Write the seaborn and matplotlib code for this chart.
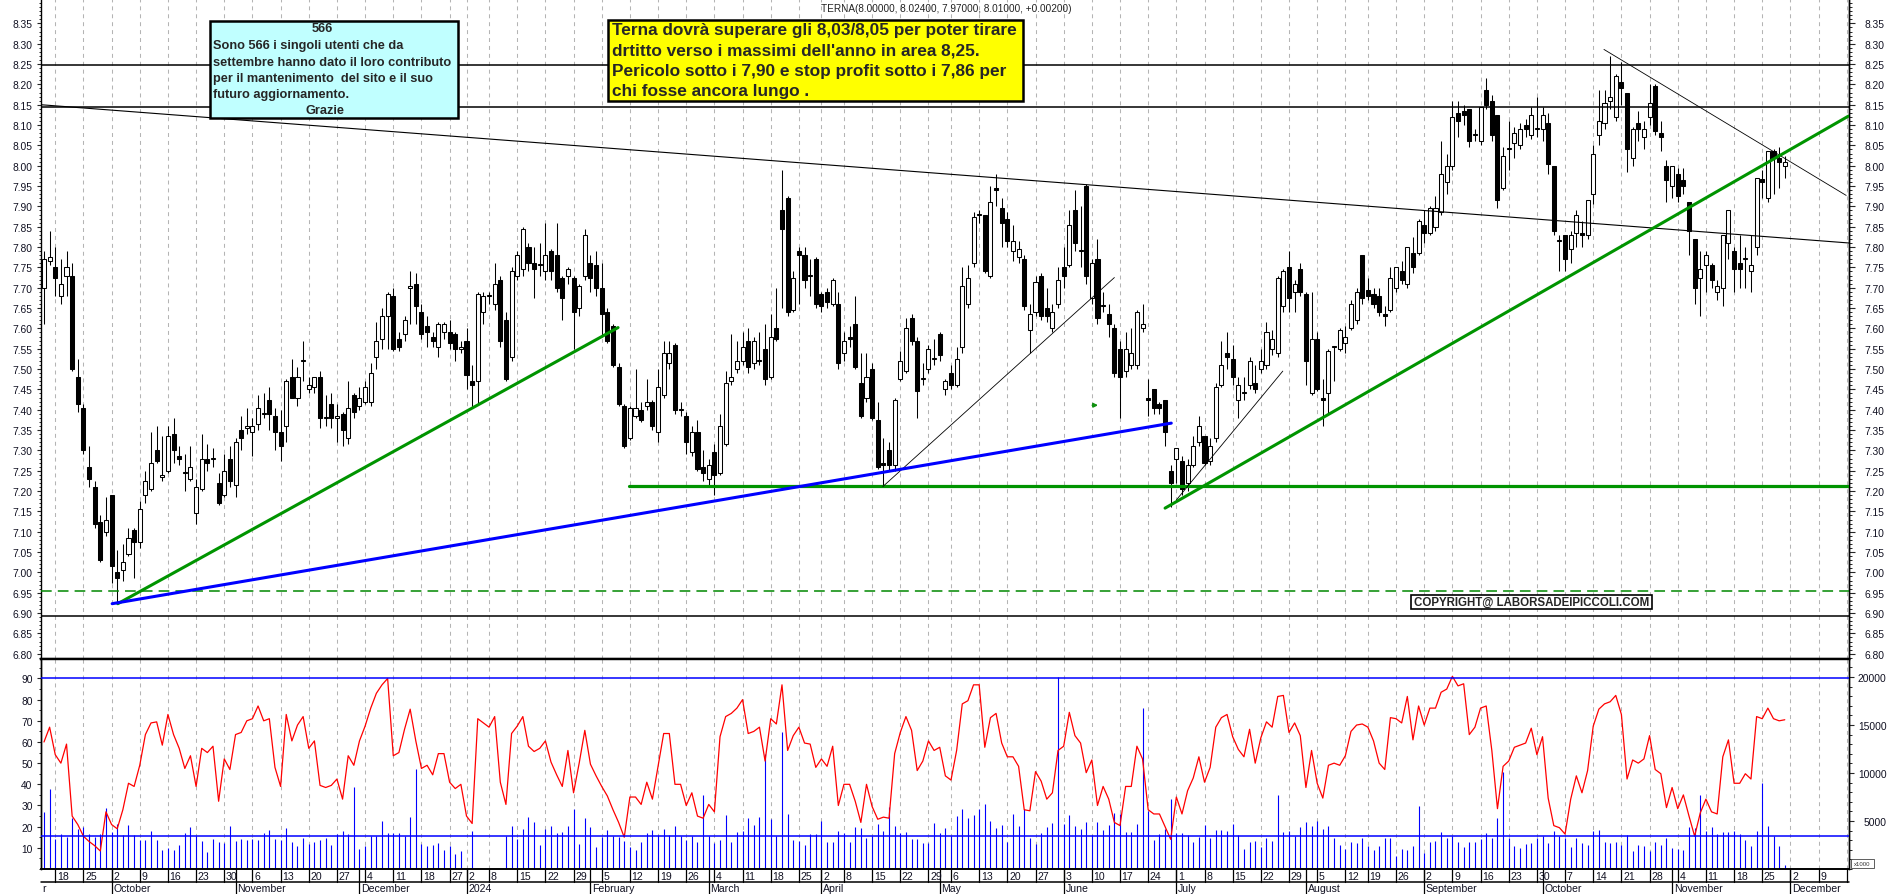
import numpy as np
import pandas as pd
import matplotlib
matplotlib.use("Agg")
import matplotlib.pyplot as plt
from matplotlib.patches import Rectangle
from matplotlib.lines import Line2D
from matplotlib.transforms import blended_transform_factory
from matplotlib.ticker import MultipleLocator
import seaborn as sns

# ---------------------------------------------------------------- data
market_holidays = ["2023-12-25", "2023-12-26", "2024-01-01", "2024-03-29", "2024-04-01",
                   "2024-05-01", "2024-08-15", "2024-12-24", "2024-12-25", "2024-12-26"]
session_dates = pd.bdate_range("2023-09-14", "2024-12-20")
session_dates = session_dates[~session_dates.isin(pd.to_datetime(market_holidays))]

open_ = [
    7.70, 7.765, 7.75, 7.68, 7.73, 7.73, 7.48, 7.405, 7.26, 7.21,
    7.125, 7.10, 7.19, 7.00, 7.005, 7.045, 7.105, 7.075, 7.19, 7.205,
    7.30, 7.235, 7.25, 7.34, 7.285, 7.245, 7.23, 7.145, 7.205, 7.28,
    7.28, 7.22, 7.19, 7.28, 7.215, 7.35, 7.355, 7.345, 7.365, 7.39,
    7.425, 7.385, 7.345, 7.36, 7.48, 7.43, 7.52, 7.45, 7.455, 7.48,
    7.38, 7.415, 7.38, 7.39, 7.33, 7.435, 7.41, 7.42, 7.42, 7.53,
    7.575, 7.63, 7.68, 7.575, 7.585, 7.70, 7.71, 7.64, 7.605, 7.58,
    7.555, 7.59, 7.59, 7.585, 7.55, 7.57, 7.47, 7.47, 7.64, 7.68,
    7.66, 7.72, 7.62, 7.53, 7.73, 7.745, 7.80, 7.76, 7.755, 7.74,
    7.79, 7.78, 7.725, 7.73, 7.725, 7.65, 7.73, 7.76, 7.755, 7.70,
    7.64, 7.605, 7.505, 7.41, 7.33, 7.385, 7.40, 7.41, 7.42, 7.345,
    7.435, 7.515, 7.56, 7.40, 7.385, 7.295, 7.345, 7.26, 7.23, 7.295,
    7.245, 7.315, 7.47, 7.50, 7.52, 7.57, 7.515, 7.52, 7.55, 7.48,
    7.60, 7.89, 7.92, 7.645, 7.79, 7.78, 7.73, 7.77, 7.685, 7.69,
    7.66, 7.66, 7.54, 7.58, 7.61, 7.465, 7.43, 7.50, 7.375, 7.27,
    7.30, 7.265, 7.475, 7.495, 7.625, 7.57, 7.475, 7.50, 7.525, 7.585,
    7.45, 7.49, 7.46, 7.555, 7.66, 7.76, 7.88, 7.88, 7.73, 7.945,
    7.895, 7.87, 7.79, 7.775, 7.77, 7.595, 7.64, 7.73, 7.65, 7.60,
    7.66, 7.75, 7.755, 7.89, 7.79, 7.95, 7.675, 7.77, 7.655, 7.635,
    7.60, 7.55, 7.495, 7.51, 7.51, 7.60, 7.43, 7.45, 7.415, 7.425,
    7.25, 7.28, 7.275, 7.22, 7.265, 7.32, 7.335, 7.275, 7.33, 7.46,
    7.54, 7.525, 7.425, 7.44, 7.46, 7.465, 7.50, 7.51, 7.55, 7.54,
    7.655, 7.75, 7.69, 7.745, 7.685, 7.44, 7.575, 7.43, 7.44, 7.555,
    7.55, 7.565, 7.60, 7.62, 7.78, 7.695, 7.685, 7.68, 7.635, 7.645,
    7.70, 7.74, 7.71, 7.785, 7.785, 7.855, 7.835, 7.85, 7.885, 7.96,
    8.00, 8.13, 8.135, 8.14, 8.075, 8.06, 8.185, 8.16, 8.125, 7.945,
    8.04, 8.055, 8.05, 8.10, 8.075, 8.09, 8.09, 8.105, 8.00, 7.815,
    7.83, 7.795, 7.835, 7.835, 7.83, 7.93, 8.075, 8.105, 8.16, 8.12,
    8.205, 8.18, 8.02, 8.105, 8.07, 8.12, 8.195, 8.08, 8.00, 7.95,
    7.98, 7.965, 7.91, 7.82, 7.725, 7.755, 7.755, 7.69, 7.70, 7.81,
    7.79, 7.76, 7.77, 7.74, 7.80, 7.968, 7.92, 8.035, 8.02, 8.00,
]
high = [
    7.79, 7.84, 7.80, 7.77, 7.79, 7.76, 7.525, 7.415, 7.31, 7.225,
    7.14, 7.185, 7.19, 7.055, 7.07, 7.11, 7.11, 7.175, 7.25, 7.345,
    7.36, 7.335, 7.36, 7.38, 7.31, 7.29, 7.31, 7.23, 7.34, 7.315,
    7.305, 7.245, 7.29, 7.31, 7.33, 7.385, 7.405, 7.38, 7.435, 7.44,
    7.455, 7.405, 7.40, 7.475, 7.525, 7.505, 7.57, 7.48, 7.48, 7.495,
    7.435, 7.44, 7.415, 7.395, 7.47, 7.44, 7.455, 7.47, 7.515, 7.615,
    7.65, 7.69, 7.70, 7.59, 7.63, 7.74, 7.735, 7.66, 7.63, 7.59,
    7.615, 7.615, 7.62, 7.59, 7.57, 7.60, 7.51, 7.69, 7.69, 7.69,
    7.76, 7.73, 7.64, 7.75, 7.79, 7.85, 7.81, 7.80, 7.81, 7.86,
    7.795, 7.86, 7.73, 7.75, 7.73, 7.71, 7.845, 7.78, 7.79, 7.76,
    7.65, 7.61, 7.515, 7.415, 7.41, 7.50, 7.42, 7.475, 7.425, 7.50,
    7.57, 7.57, 7.565, 7.42, 7.395, 7.36, 7.375, 7.30, 7.28, 7.315,
    7.39, 7.495, 7.585, 7.57, 7.59, 7.60, 7.58, 7.59, 7.61, 7.635,
    7.70, 7.99, 7.925, 7.74, 7.80, 7.80, 7.77, 7.775, 7.69, 7.70,
    7.725, 7.69, 7.59, 7.605, 7.68, 7.54, 7.54, 7.515, 7.42, 7.33,
    7.32, 7.43, 7.545, 7.625, 7.635, 7.58, 7.515, 7.56, 7.575, 7.59,
    7.475, 7.51, 7.555, 7.75, 7.755, 7.885, 7.89, 7.88, 7.95, 7.98,
    7.92, 7.885, 7.855, 7.815, 7.78, 7.66, 7.73, 7.735, 7.70, 7.66,
    7.75, 7.80, 7.89, 7.94, 7.90, 7.955, 7.77, 7.82, 7.69, 7.66,
    7.61, 7.57, 7.59, 7.60, 7.645, 7.66, 7.475, 7.45, 7.42, 7.425,
    7.265, 7.305, 7.285, 7.28, 7.335, 7.385, 7.335, 7.33, 7.465, 7.57,
    7.59, 7.56, 7.48, 7.48, 7.53, 7.51, 7.55, 7.615, 7.595, 7.73,
    7.745, 7.79, 7.72, 7.76, 7.69, 7.69, 7.59, 7.475, 7.55, 7.555,
    7.60, 7.605, 7.67, 7.70, 7.78, 7.725, 7.70, 7.70, 7.655, 7.75,
    7.75, 7.765, 7.80, 7.825, 7.87, 7.89, 7.90, 7.925, 8.06, 8.03,
    8.16, 8.16, 8.15, 8.14, 8.09, 8.145, 8.215, 8.175, 8.125, 8.045,
    8.11, 8.095, 8.105, 8.115, 8.145, 8.17, 8.145, 8.13, 8.00, 7.83,
    7.83, 7.84, 7.89, 7.865, 7.915, 8.05, 8.185, 8.185, 8.27, 8.225,
    8.255, 8.18, 8.095, 8.135, 8.11, 8.20, 8.20, 8.11, 8.015, 8.00,
    7.995, 7.995, 7.91, 7.82, 7.79, 7.79, 7.76, 7.72, 7.83, 7.89,
    7.80, 7.83, 7.80, 7.83, 7.97, 7.99, 8.035, 8.04, 8.045, 8.024,
]
low = [
    7.61, 7.755, 7.68, 7.66, 7.68, 7.495, 7.395, 7.29, 7.21, 7.11,
    7.025, 7.09, 6.975, 6.922, 6.98, 7.04, 6.985, 7.06, 7.17, 7.20,
    7.27, 7.225, 7.245, 7.27, 7.265, 7.20, 7.225, 7.12, 7.20, 7.25,
    7.26, 7.165, 7.185, 7.21, 7.185, 7.30, 7.34, 7.285, 7.35, 7.38,
    7.35, 7.30, 7.275, 7.32, 7.43, 7.41, 7.47, 7.44, 7.44, 7.355,
    7.36, 7.355, 7.32, 7.31, 7.315, 7.38, 7.40, 7.415, 7.41, 7.50,
    7.55, 7.55, 7.545, 7.545, 7.57, 7.61, 7.61, 7.575, 7.555, 7.555,
    7.53, 7.575, 7.55, 7.52, 7.54, 7.45, 7.405, 7.415, 7.61, 7.66,
    7.645, 7.555, 7.47, 7.52, 7.72, 7.73, 7.74, 7.675, 7.73, 7.72,
    7.72, 7.69, 7.62, 7.71, 7.55, 7.63, 7.72, 7.69, 7.68, 7.58,
    7.565, 7.505, 7.41, 7.305, 7.325, 7.38, 7.37, 7.40, 7.35, 7.32,
    7.43, 7.50, 7.39, 7.385, 7.29, 7.285, 7.25, 7.225, 7.21, 7.19,
    7.24, 7.31, 7.46, 7.49, 7.51, 7.49, 7.50, 7.51, 7.46, 7.475,
    7.57, 7.65, 7.63, 7.64, 7.66, 7.70, 7.68, 7.65, 7.64, 7.65,
    7.655, 7.50, 7.52, 7.555, 7.50, 7.38, 7.42, 7.375, 7.255, 7.213,
    7.25, 7.25, 7.47, 7.49, 7.56, 7.38, 7.46, 7.49, 7.51, 7.52,
    7.435, 7.45, 7.455, 7.54, 7.65, 7.75, 7.86, 7.735, 7.725, 7.90,
    7.80, 7.80, 7.765, 7.76, 7.645, 7.54, 7.63, 7.62, 7.615, 7.59,
    7.65, 7.70, 7.75, 7.79, 7.75, 7.71, 7.66, 7.61, 7.64, 7.58,
    7.48, 7.38, 7.48, 7.50, 7.50, 7.59, 7.385, 7.39, 7.39, 7.31,
    7.16, 7.22, 7.19, 7.20, 7.26, 7.31, 7.265, 7.265, 7.32, 7.455,
    7.50, 7.46, 7.38, 7.425, 7.45, 7.44, 7.49, 7.50, 7.535, 7.53,
    7.64, 7.64, 7.64, 7.68, 7.46, 7.435, 7.445, 7.36, 7.39, 7.47,
    7.545, 7.54, 7.595, 7.61, 7.66, 7.67, 7.65, 7.63, 7.605, 7.64,
    7.69, 7.71, 7.70, 7.735, 7.78, 7.81, 7.83, 7.84, 7.88, 7.93,
    7.99, 8.07, 8.10, 8.045, 8.06, 8.05, 8.14, 8.06, 7.895, 7.94,
    7.99, 8.02, 8.04, 8.07, 8.065, 8.07, 8.06, 7.98, 7.83, 7.74,
    7.74, 7.76, 7.80, 7.80, 7.82, 7.905, 8.05, 8.09, 8.14, 8.11,
    8.15, 7.985, 8.00, 8.06, 8.04, 8.10, 8.075, 8.035, 7.91, 7.92,
    7.91, 7.93, 7.78, 7.66, 7.63, 7.69, 7.70, 7.67, 7.655, 7.77,
    7.69, 7.70, 7.70, 7.69, 7.78, 7.92, 7.91, 7.93, 7.945, 7.97,
]
close = [
    7.77, 7.775, 7.725, 7.71, 7.75, 7.50, 7.415, 7.30, 7.23, 7.12,
    7.03, 7.13, 7.015, 6.985, 7.025, 7.085, 7.075, 7.155, 7.225, 7.27,
    7.275, 7.24, 7.335, 7.30, 7.28, 7.245, 7.26, 7.21, 7.28, 7.27,
    7.28, 7.17, 7.25, 7.225, 7.32, 7.33, 7.36, 7.36, 7.405, 7.39,
    7.39, 7.345, 7.31, 7.47, 7.43, 7.48, 7.52, 7.46, 7.48, 7.38,
    7.38, 7.38, 7.385, 7.35, 7.405, 7.395, 7.43, 7.455, 7.49, 7.57,
    7.63, 7.685, 7.55, 7.555, 7.62, 7.705, 7.655, 7.585, 7.59, 7.57,
    7.61, 7.61, 7.565, 7.55, 7.555, 7.485, 7.46, 7.685, 7.68, 7.68,
    7.71, 7.57, 7.475, 7.74, 7.78, 7.845, 7.76, 7.745, 7.755, 7.78,
    7.74, 7.70, 7.675, 7.745, 7.64, 7.705, 7.83, 7.725, 7.70, 7.635,
    7.57, 7.51, 7.415, 7.31, 7.405, 7.405, 7.375, 7.42, 7.36, 7.455,
    7.54, 7.54, 7.40, 7.40, 7.32, 7.345, 7.255, 7.245, 7.265, 7.24,
    7.36, 7.465, 7.48, 7.52, 7.555, 7.505, 7.57, 7.52, 7.475, 7.58,
    7.575, 7.845, 7.64, 7.725, 7.78, 7.72, 7.73, 7.66, 7.655, 7.665,
    7.72, 7.515, 7.57, 7.575, 7.505, 7.385, 7.48, 7.38, 7.26, 7.265,
    7.265, 7.425, 7.52, 7.60, 7.57, 7.445, 7.475, 7.55, 7.525, 7.535,
    7.47, 7.46, 7.525, 7.705, 7.725, 7.875, 7.88, 7.74, 7.91, 7.94,
    7.86, 7.815, 7.815, 7.795, 7.655, 7.635, 7.715, 7.63, 7.63, 7.64,
    7.72, 7.73, 7.855, 7.81, 7.79, 7.73, 7.76, 7.625, 7.655, 7.61,
    7.49, 7.48, 7.55, 7.54, 7.64, 7.61, 7.425, 7.405, 7.405, 7.345,
    7.22, 7.305, 7.205, 7.265, 7.31, 7.36, 7.27, 7.31, 7.455, 7.51,
    7.53, 7.48, 7.46, 7.44, 7.52, 7.45, 7.52, 7.59, 7.575, 7.725,
    7.74, 7.675, 7.71, 7.69, 7.52, 7.575, 7.45, 7.425, 7.545, 7.555,
    7.595, 7.58, 7.66, 7.69, 7.675, 7.68, 7.66, 7.64, 7.63, 7.725,
    7.75, 7.72, 7.80, 7.75, 7.865, 7.835, 7.895, 7.895, 7.98, 8.00,
    8.12, 8.11, 8.125, 8.06, 8.075, 8.145, 8.15, 8.075, 7.915, 8.025,
    8.04, 8.08, 8.09, 8.09, 8.125, 8.09, 8.125, 8.005, 7.84, 7.815,
    7.77, 7.83, 7.88, 7.83, 7.915, 8.03, 8.11, 8.155, 8.17, 8.22,
    8.19, 8.04, 8.09, 8.09, 8.09, 8.155, 8.085, 8.07, 7.965, 8.00,
    7.925, 7.95, 7.84, 7.70, 7.745, 7.78, 7.72, 7.705, 7.83, 7.89,
    7.745, 7.745, 7.77, 7.755, 7.97, 7.96, 8.035, 8.02, 8.01, 8.01,
]
rsi = [
    60, 67, 54, 50, 59, 25, 21, 15.5, 13, 11,
    8.5, 27, 21, 19, 28, 40.5, 39, 49, 63.5, 69,
    69.5, 58.5, 73, 63.5, 57, 47.5, 53.5, 39, 57, 55,
    58, 32, 52, 47, 63.5, 64.5, 70, 71, 77, 70,
    71, 48, 39, 73, 60.5, 68, 72, 57, 60.5, 39.5,
    38.5, 39.5, 42.5, 33, 53.5, 49, 60.5, 67.5, 76, 83,
    87, 90, 53.5, 55, 66, 75.5, 60.5, 47.5, 49, 44.5,
    54.5, 54.5, 41, 38, 40, 25, 21.5, 71, 69, 67,
    72, 41, 30.5, 64, 67.5, 72, 58, 55.5, 57, 60.5,
    50.5, 44.5, 39, 56, 36, 50, 65.5, 49.5, 44, 39,
    34.5, 28, 22, 15, 34, 34, 30.5, 41, 33, 48.5,
    64, 64, 40, 40, 30, 36, 25, 24, 30.5, 27,
    62.5, 72, 73.5, 76, 80, 64, 65, 67, 51, 71,
    68.5, 87, 56, 63, 67, 59.5, 59, 48, 52, 48.5,
    58, 30, 40, 40, 32, 22, 40, 29.5, 23.5, 24.5,
    24, 54.5, 64.5, 72, 65.5, 46.5, 51, 60.5, 56, 57.5,
    44, 42, 56, 78, 79.5, 87, 87, 57.5, 71.5, 73.5,
    59.5, 53, 53, 48.5, 28, 27.5, 46, 41.5, 33, 36,
    56, 58, 74, 63, 59.5, 45.5, 51.5, 30, 39, 33,
    22, 20.5, 39, 39, 58, 52, 28, 26, 26, 20,
    14, 34, 26, 37, 43, 53, 41, 48, 67, 71.5,
    73, 62.5, 56.5, 53, 66, 50, 62, 69.5, 67, 81.5,
    82, 64.5, 69, 63, 38.5, 56, 40.5, 33.5, 49, 50,
    49, 53.5, 65, 68, 68.5, 67, 60.5, 50, 47, 71.5,
    71, 69, 81.5, 61, 77, 68, 76, 76, 83.5, 85,
    91, 86.5, 87.5, 63.5, 67, 76, 77, 56, 28.5, 48.5,
    51, 57.5, 58.5, 59.5, 66.5, 54, 62.5, 33.5, 20.5, 19.5,
    16.5, 33, 44, 36, 46.5, 67.5, 75.5, 78, 79, 82,
    73, 42.5, 51.5, 50, 52, 63, 47, 45, 29, 38.5,
    28.5, 35, 25, 15.5, 26.5, 33, 27, 26, 53, 61,
    40.5, 40.5, 45, 42.5, 72, 71, 76, 71, 70, 70.5,
]
volume = [
    5970, 8330, 3125, 3650, 3370, 5300, 4170, 4340, 3650, 3370,
    3650, 6350, 3890, 4690, 3570, 4580, 3570, 3050, 3050, 3920,
    3050, 1980, 2150, 1980, 2500, 3750, 4340, 3400, 2880, 1735,
    3120, 2850, 2700, 4440, 2880, 3120, 3020, 3120, 3020, 3750,
    4060, 3120, 3050, 4270, 2850, 2430, 3230, 2600, 2780, 3020,
    3230, 2500, 3640, 3990, 3640, 8500, 2080, 2360, 3400, 3400,
    5030, 3750, 3710, 3750, 3400, 5380, 10400, 2600, 2430, 2530,
    2700, 2010, 2360, 1560, 1910, 0, 3990, 0, 0, 0,
    0, 0, 3400, 4510, 3120, 4160, 5380, 4930, 2500, 4160,
    4440, 3750, 3820, 4510, 6250, 2600, 5310, 4340, 2260, 3300,
    4100, 3400, 3300, 2950, 2260, 1980, 2850, 3750, 4100, 3540,
    4160, 3540, 4440, 3400, 3050, 3400, 2850, 7700, 3400, 2700,
    3050, 5620, 2780, 3820, 3990, 5310, 4580, 5380, 11970, 5200,
    3400, 14230, 5730, 3050, 2950, 2500, 3640, 3640, 5030, 2850,
    2850, 3990, 3750, 2850, 4400, 4270, 3230, 3400, 4680, 3990,
    6420, 4510, 3750, 3820, 3120, 3120, 2700, 2700, 4790, 3750,
    4230, 3400, 5550, 6250, 5310, 5620, 6250, 6770, 5030, 4270,
    4580, 2850, 5730, 4440, 6250, 3200, 2600, 3750, 4340, 4790,
    20000, 4680, 5620, 4440, 4160, 4930, 3540, 4930, 4100, 4580,
    5800, 5730, 3820, 3890, 4680, 16760, 6070, 3020, 3640, 4160,
    7290, 3750, 3750, 3540, 2850, 3300, 4580, 3230, 4060, 4060,
    3990, 4680, 3540, 2080, 2850, 2950, 2260, 3230, 2950, 7700,
    3890, 3960, 3390, 4340, 4930, 4510, 5030, 4160, 4440, 3230,
    2500, 2080, 2850, 2700, 3230, 2430, 2010, 2360, 3230, 3230,
    1320, 2080, 2010, 2360, 6520, 1670, 2850, 2880, 3890, 3230,
    3400, 2850, 2260, 2850, 2850, 3120, 3750, 3230, 5310, 10060,
    3230, 2360, 2190, 2600, 2700, 3230, 3400, 2700, 3960, 3400,
    3230, 2260, 3230, 2700, 2500, 3990, 4100, 2850, 2700, 2850,
    2500, 3540, 1910, 2500, 2430, 1910, 2850, 2500, 3230, 2190,
    2080, 2010, 4340, 4230, 7700, 3920, 4340, 3640, 3820, 3890,
    3990, 3640, 3020, 2430, 3920, 8950, 4510, 3400, 2360, 420,
]

price_ticks = [6.80, 6.85, 6.90, 6.95, 7.00, 7.05, 7.10, 7.15, 7.20, 7.25, 7.30, 7.35,
               7.40, 7.45, 7.50, 7.55, 7.60, 7.65, 7.70, 7.75, 7.80, 7.85, 7.90, 7.95,
               8.00, 8.05, 8.10, 8.15, 8.20, 8.25, 8.30, 8.35]
rsi_ticks = [10, 20, 30, 40, 50, 60, 70, 80, 90]
volume_ticks = [5000, 10000, 15000, 20000]
month_names = {2: "February", 3: "March", 4: "April", 5: "May", 6: "June", 7: "July",
               8: "August", 9: "September", 10: "October", 11: "November", 12: "December"}

# drawn study lines (session index, price)
black_levels = [8.248, 8.145, 6.893]
green_dashed_level = 6.955
green_support = (103.8, 7.212)
long_down_line = [(-0.53, 8.150), (320.4, 7.810)]
short_down_line = [(276.9, 8.286), (319.9, 7.927)]
thin_up_lines = [[(148.9, 7.211), (190.0, 7.725)], [(201.0, 7.178), (219.9, 7.495)]]
green_up_lines = [[(13.1, 6.923), (101.9, 7.602)], [(199.0, 7.158), (320.3, 8.122)]]
blue_up_line = [(12.1, 6.923), (200.1, 7.367)]
osc_levels = [90, 15.6]

title_text = "TERNA(8.00000, 8.02400, 7.97000, 8.01000, +0.00200)"
note_lines = ["Terna dovrà superare gli 8,03/8,05 per poter tirare",
              "drtitto verso i massimi dell'anno in area 8,25.",
              "Pericolo sotto i 7,90 e stop profit sotto i 7,86 per",
              "chi fosse ancora lungo ."]
thanks_lines = ["Sono 566 i singoli utenti che da",
                "settembre hanno dato il loro contributo",
                "per il mantenimento  del sito e il suo",
                "futuro aggiornamento."]

# ---------------------------------------------------------------- style
sns.set_theme(style="white")
plt.rcParams["font.family"] = ["Liberation Sans", "DejaVu Sans"]
plt.rcParams["axes.linewidth"] = 1.0
plt.rcParams["axes.edgecolor"] = "black"

W, H, DPI = 1890, 895, 100
fig = plt.figure(figsize=(W / DPI, H / DPI), dpi=DPI)
fig.patch.set_facecolor("white")


def fx(x):
    return x / W


def fy(y):
    return 1 - y / H


XL, XR = 41, 1849
TOP, MID, BOT = 0, 660, 870
ax = fig.add_axes([fx(XL), fy(MID), fx(XR) - fx(XL), fy(TOP) - fy(MID)])
axv = fig.add_axes([fx(XL), fy(BOT), fx(XR) - fx(XL), fy(MID) - fy(BOT)], sharex=ax)
axr = axv.twinx()
axr.set_zorder(axv.get_zorder() + 1)
axr.patch.set_visible(False)

XMIN, XMAX = -0.53, 320.4
ax.set_xlim(XMIN, XMAX)
ax.set_ylim(6.787, 8.410)
axv.set_ylim(0, 21875)
axr.set_ylim(0, 99.2)

idx = np.arange(len(close))
o = np.array(open_); c = np.array(close); hi = np.array(high); lo = np.array(low)

# ---------- calendar grid
week_starts, month_starts = [], []
for i in range(1, len(session_dates)):
    if i > XMAX:
        break
    d, p = session_dates[i], session_dates[i - 1]
    if d.isocalendar()[1] != p.isocalendar()[1]:
        week_starts.append(i)
    if d.month != p.month:
        month_starts.append(i)

grid_kw = dict(color="#b4b4b4", lw=0.75, ls=(0, (3.8, 3.8)), zorder=0)
for w in week_starts:
    ax.axvline(w, **grid_kw)
    axv.axvline(w, **grid_kw)

# ---------- candles
ax.vlines(idx, lo, hi, color="black", lw=0.75, zorder=3)
body_lo = np.minimum(o, c)
body_h = np.maximum(np.abs(c - o), 0.0025)
fills = np.where(c >= o, "white", "black")
ax.bar(idx, body_h, bottom=body_lo, width=0.72, color=fills, edgecolor="black",
       linewidth=0.75, zorder=4)

# ---------- study lines
for lv in black_levels:
    ax.axhline(lv, color="black", lw=1.1, zorder=5)
ax.axhline(green_dashed_level, color="#008800", lw=1.1, ls=(0, (7, 4)), zorder=5)
ax.plot([green_support[0], XMAX], [green_support[1]] * 2, color="#009400", lw=2.3, zorder=5)
for seg, col, lw in ([long_down_line, "black", 0.8], [short_down_line, "black", 0.6]):
    ax.plot([seg[0][0], seg[1][0]], [seg[0][1], seg[1][1]], color=col, lw=lw, zorder=5)
for seg in thin_up_lines:
    ax.plot([seg[0][0], seg[1][0]], [seg[0][1], seg[1][1]], color="black", lw=0.6, zorder=5)
for seg in green_up_lines:
    ax.plot([seg[0][0], seg[1][0]], [seg[0][1], seg[1][1]], color="#009400", lw=2.2, zorder=6)
ax.plot([blue_up_line[0][0], blue_up_line[1][0]], [blue_up_line[0][1], blue_up_line[1][1]],
        color="#0000ff", lw=2.2, zorder=6)
ax.annotate("", xy=(187.6, 7.411), xytext=(185.6, 7.411),
            arrowprops=dict(arrowstyle="-|>", color="#109010", lw=1.2, mutation_scale=6), zorder=6)

# ---------- lower panel
axv.vlines(idx, 0, volume, color="#0000ff", lw=0.8, zorder=2)
sns.lineplot(x=idx, y=rsi, ax=axr, color="#ff0000", linewidth=0.9, legend=False, zorder=3)
for lv in osc_levels:
    axr.axhline(lv, color="#0000ff", lw=1.1, zorder=4)

# ---------- axes & ticks
lab_col = "#111122"
tick_font = 7.4
ax.set_yticks(price_ticks)
ax.set_yticklabels([f"{t:.2f}" for t in price_ticks])
ax.yaxis.set_minor_locator(MultipleLocator(0.01))
ax.tick_params(axis="y", which="major", left=True, right=False, length=3, width=0.8,
               pad=3, labelsize=tick_font, labelcolor=lab_col, direction="out")
ax.tick_params(axis="y", which="minor", left=True, right=False, length=1.6, width=0.7, direction="out")
ax.tick_params(axis="x", bottom=False, labelbottom=False)
sec = ax.secondary_yaxis("right")
sec.set_yticks(price_ticks)
sec.set_yticklabels([f"{t:.2f}" for t in price_ticks])
sec.yaxis.set_minor_locator(MultipleLocator(0.01))
sec.tick_params(axis="y", which="major", length=4.3, width=0.8, pad=6.5, labelsize=tick_font,
                labelcolor=lab_col, direction="out")
sec.tick_params(axis="y", which="minor", length=2.2, width=0.7, direction="out")
sec.spines["right"].set_linewidth(1.0)

ax.spines["top"].set_visible(False)
ax.spines["bottom"].set_linewidth(1.6)
for a in (ax, axv, axr):
    a.set_xlabel(""); a.set_ylabel("")

axr.yaxis.tick_left()
axr.set_yticks(rsi_ticks)
axr.set_yticklabels([str(t) for t in rsi_ticks])
axr.yaxis.set_minor_locator(MultipleLocator(5))
axr.tick_params(axis="y", which="major", left=True, right=False, length=3, width=0.8, pad=3,
                labelsize=tick_font, labelcolor=lab_col, labelleft=True, labelright=False)
axr.tick_params(axis="y", which="minor", left=True, right=False, length=1.6, width=0.7)
axv.yaxis.tick_right()
axv.set_yticks(volume_ticks)
axv.set_yticklabels([str(t) for t in volume_ticks])
axv.yaxis.set_minor_locator(MultipleLocator(1000))
axv.tick_params(axis="y", which="major", right=True, left=False, length=3.6, width=0.8, pad=23.5,
                labelsize=tick_font, labelcolor=lab_col, labelright=True, labelleft=False)
for t in axv.get_yticklabels():
    t.set_horizontalalignment("right")
axv.tick_params(axis="y", which="minor", right=True, left=False, length=2, width=0.7)
axv.tick_params(axis="x", bottom=False, labelbottom=False)
axr.tick_params(axis="x", bottom=False, labelbottom=False)
for a in (axv, axr):
    a.spines["top"].set_linewidth(1.6)
    a.spines["bottom"].set_linewidth(1.2)

# ---------- date axis (drawn under the lower panel)
tr = blended_transform_factory(axv.transData, fig.transFigure)
fig.add_artist(Line2D([fx(XL), fx(XR)], [fy(883), fy(883)], transform=fig.transFigure,
                      color="black", lw=1.1))
for w in week_starts:
    fig.add_artist(Line2D([w, w], [fy(870), fy(883)], transform=tr, color="black", lw=0.9))
    if w < XMAX - 2:
        fig.text(w + 0.3, fy(877.5), str(session_dates[w].day), transform=tr, ha="left",
                 va="center", fontsize=7.6, color=lab_col)
for m in month_starts:
    d = session_dates[m]
    fig.add_artist(Line2D([m, m], [fy(870), fy(895)], transform=tr, color="black", lw=0.9))
    name = str(d.year) if d.month == 1 else month_names[d.month]
    fig.text(m + 0.3, fy(889.5), name, transform=tr, ha="left", va="center",
             fontsize=7.6, color=lab_col)
fig.text(fx(42), fy(889.5), "r", ha="left", va="center", fontsize=7.6, color=lab_col)

# x1000 box
fig.add_artist(Rectangle((fx(1851), fy(869)), fx(1874) - fx(1851), fy(860) - fy(869),
                         transform=fig.transFigure, facecolor="white", edgecolor="#444444", lw=0.6))
fig.text(fx(1862.5), fy(864.5), "x1000", ha="center", va="center", fontsize=4.3, color="#333333")

# ---------- annotations


def box(x0, y0, x1, y1, fc, lw=1.8):
    fig.add_artist(Rectangle((fx(x0), fy(y1)), fx(x1) - fx(x0), fy(y0) - fy(y1),
                             transform=fig.transFigure, facecolor=fc, edgecolor="black",
                             lw=lw, zorder=10))


fig.text(fx(946), fy(8.5), title_text, ha="center", va="center", fontsize=7.2, color="#222222")

box(210.5, 21.7, 458, 119, "#c0ffff")
narrow = ["Liberation Sans Narrow", "Liberation Sans", "DejaVu Sans"]
fig.text(fx(322), fy(29.5), "566", ha="center", va="center", fontsize=9.2, family=narrow,
         weight="bold", zorder=11)
for k, line in enumerate(thanks_lines):
    fig.text(fx(213.5), fy(46.5 + 16.2 * k), line, ha="left", va="center", fontsize=9.2,
             family=narrow, weight="bold", zorder=11)
fig.text(fx(325), fy(111), "Grazie", ha="center", va="center", fontsize=9.2, family=narrow,
         weight="bold", zorder=11)

box(608.5, 20.7, 1023, 101.7, "#ffff00")
for k, line in enumerate(note_lines):
    fig.text(fx(612), fy(31 + 20.3 * k), line, ha="left", va="center", fontsize=12.4,
             weight="bold", zorder=11)

box(1411, 596, 1652, 609.5, "white", lw=1.2)
fig.text(fx(1531.5), fy(603), "COPYRIGHT@ LABORSADEIPICCOLI.COM", ha="center", va="center",
         fontsize=8.3, weight="bold", zorder=11)

fig.savefig("out.png", dpi=DPI, facecolor="white")
